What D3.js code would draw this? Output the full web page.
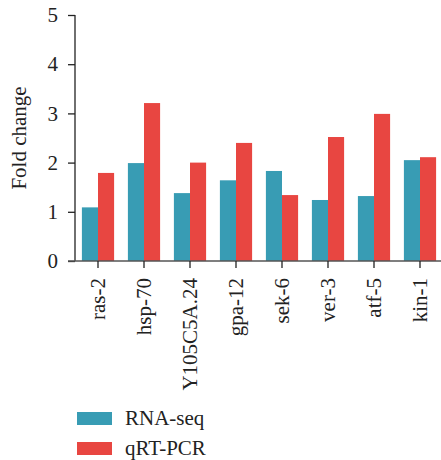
<!DOCTYPE html>
<html>
<head>
<meta charset="utf-8">
<script src="https://cdn.jsdelivr.net/npm/d3@7"></script>
<style>
  body { margin: 0; background: #fff; }
  text { font-family: "Liberation Serif", "DejaVu Serif", serif; fill: #222; }
</style>
</head>
<body>
<svg id="chart" width="441" height="460"></svg>
<script>
'use strict';

// data
const genes = ["ras-2", "hsp-70", "Y105C5A.24", "gpa-12", "sek-6", "ver-3", "atf-5", "kin-1"];
const rnaSeq = [1.09, 1.99, 1.38, 1.64, 1.83, 1.24, 1.32, 2.05];
const qrtPcr = [1.79, 3.21, 2.0, 2.40, 1.34, 2.52, 2.99, 2.11];
const seriesNames = ["RNA-seq", "qRT-PCR"];
const yTicks = [0, 1, 2, 3, 4, 5];

const colors = ["#389cb4", "#e84641"];

const svg = d3.select("#chart");

const x = d3.scaleBand()
  .domain(genes)
  .range([75, 443])
  .paddingInner(0.3)
  .paddingOuter(0.15);

const xSub = d3.scaleBand()
  .domain(seriesNames)
  .range([0, x.bandwidth()]);

const y = d3.scaleLinear()
  .domain([0, 5])
  .range([261, 15]);

const series = [rnaSeq, qrtPcr];

//bars
series.forEach(function(vals, s) {
  svg.append("g")
    .selectAll("rect")
    .data(genes)
    .join("rect")
    .attr("x", d => x(d) + xSub(seriesNames[s]))
    .attr("y", (d, i) => y(vals[i]))
    .attr("width", xSub.bandwidth())
    .attr("height", (d, i) => y(0) - y(vals[i]))
    .attr("fill", colors[s]);
});

//y axis
const yAxis = svg.append("g")
  .attr("transform", "translate(75,0)")
  .call(d3.axisLeft(y).tickValues(yTicks).tickFormat(d3.format("d")).tickSize(7).tickPadding(10));
yAxis.selectAll("text").style("font-size", "21px");
yAxis.selectAll("line, path").attr("stroke", "#222").attr("stroke-width", 1.3);
yAxis.select(".domain").attr("d", "M0," + y(5) + "V" + y(0));

//x axis
const xAxis = svg.append("g")
  .attr("transform", "translate(0," + y(0) + ")")
  .call(d3.axisBottom(x).tickSize(7).tickPadding(0));
xAxis.select(".domain").attr("d", "M68,0H441").attr("stroke", "#555").attr("stroke-width", 1.6);
xAxis.selectAll(".tick line").attr("stroke", "#222").attr("stroke-width", 1.3);
xAxis.selectAll("text")
  .style("font-size", "21px")
  .attr("text-anchor", "end")
  .attr("transform", "rotate(-90)")
  .attr("x", -17)
  .attr("y", 0)
  .attr("dy", "0.35em");

//y label
svg.append("text")
  .attr("transform", "translate(26,138) rotate(-90)")
  .attr("text-anchor", "middle")
  .style("font-size", "21px")
  .text("Fold change");

//legend
const legend = svg.append("g");
seriesNames.forEach(function(name, i) {
  const g = legend.append("g").attr("transform", "translate(77," + (412 + i * 30) + ")");
  g.append("rect").attr("width", 35).attr("height", 13).attr("fill", colors[i]);
  g.append("text").attr("x", 48).attr("y", 13).style("font-size", "21px").text(name);
});
</script>
</body>
</html>
